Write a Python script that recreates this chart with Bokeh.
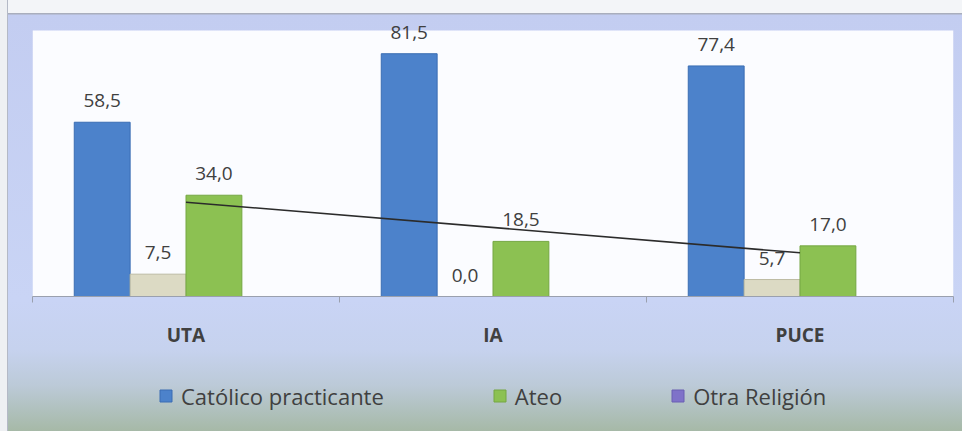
import numpy as np
from bokeh.plotting import figure
from bokeh.layouts import column
from bokeh.models import (ColumnDataSource, LabelSet, Legend, LegendItem, Range1d,
                          FixedTicker, BoxAnnotation)
from bokeh.core.properties import value
from bokeh.embed import file_html
from bokeh.resources import INLINE

# ---- data ----
categories = ["UTA", "IA", "PUCE"]
catolico = [58.5, 81.5, 77.4]
otro = [7.5, 0.0, 5.7]          # beige series (no legend entry)
ateo = [34.0, 18.5, 17.0]
otra_religion = [float("nan")] * 3   # shown in legend only, no visible bars

series_names = ["Católico practicante", None, "Ateo", "Otra Religión"]
series_values = [catolico, otro, ateo, otra_religion]
fill_colors = ["#4c82cb", "#dcdac4", "#8cc152", "#7f72c9"]
line_colors = ["#3a6db3", "#bdbba3", "#75a743", "#6a5fb3"]

FONT = "Open Sans"
TXT = "#404040"
Y_MAX = 89.3            # value axis maximum (top of the white plot area)

n = len(categories)
centers = np.arange(n) + 0.5
bar_w = 0.182
offsets = [-1.5 * bar_w, -0.5 * bar_w, 0.5 * bar_w, 1.5 * bar_w]

W, H_TOTAL, H_LEG = 962, 431, 71
H_MAIN = H_TOTAL - H_LEG
# frame spans y=14..296 px; white plot area spans y=30..296 px
frame_top, area_top, frame_bottom = 14, 30, 296
y_end = Y_MAX * (frame_bottom - frame_top) / (frame_bottom - area_top)

p = figure(width=W, height=H_MAIN, output_backend="svg", toolbar_location=None,
           x_range=Range1d(0, n), y_range=Range1d(0, y_end),
           min_border_left=32, min_border_right=9, min_border_top=frame_top,
           min_border_bottom=H_MAIN - frame_bottom, y_axis_location=None)
p.border_fill_alpha = 0
p.background_fill_alpha = 0
p.outline_line_color = None
p.xgrid.grid_line_color = None
p.ygrid.grid_line_color = None

# white plot area
p.add_layout(BoxAnnotation(bottom=0, top=Y_MAX, fill_color="#fbfcff", fill_alpha=1,
                           line_color=None, level="underlay"))

renderers = []
for vals, off, fc, lc in zip(series_values, offsets, fill_colors, line_colors):
    src = ColumnDataSource(dict(x=centers + off, top=vals,
                                lab=["" if np.isnan(v) else f"{v:.1f}".replace(".", ",") for v in vals]))
    r = p.vbar(x="x", top="top", bottom=0, width=bar_w, source=src,
               fill_color=fc, line_color=lc, line_width=1)
    renderers.append(r)
    labels = LabelSet(x="x", y="top", text="lab", source=src, text_align="center",
                      text_baseline="alphabetic", y_offset=15,
                      text_font=value(FONT), text_font_size=value("19px"), text_color=TXT)
    p.add_layout(labels)

# linear trendline of "Ateo"
slope, intercept = np.polyfit(centers, ateo, 1)
xt = np.array([centers[0], centers[-1]])
p.line(xt, slope * xt + intercept, line_color="#2b2b2b", line_width=1.6)

# x axis
ax = p.xaxis[0]
ax.ticker = FixedTicker(ticks=list(centers), minor_ticks=list(np.arange(n + 1)))
ax.major_label_overrides = {float(c): cat for c, cat in zip(centers, categories)}
ax.major_tick_line_color = None
ax.major_tick_out = 0
ax.major_tick_in = 0
ax.minor_tick_in = 0
ax.minor_tick_out = 6
ax.minor_tick_line_color = "#9aa0ae"
ax.axis_line_color = "#9aa0ae"
ax.major_label_standoff = 19
ax.major_label_text_font = FONT
ax.major_label_text_font_size = "19px"
ax.major_label_text_font_style = "bold"
ax.major_label_text_color = TXT

# legend strip below the chart (proxy bars lie entirely below its visible range)
lf = figure(width=W, height=H_LEG, output_backend="svg", toolbar_location=None,
            x_range=Range1d(0, n), y_range=Range1d(1000, 1001),
            min_border=0, x_axis_location=None, y_axis_location=None)
lf.border_fill_alpha = 0
lf.background_fill_alpha = 0
lf.outline_line_color = None
lf.xgrid.grid_line_color = None
lf.ygrid.grid_line_color = None
items = []
for name, vals, off, fc, lc in zip(series_names, series_values, offsets, fill_colors, line_colors):
    if not name:
        continue
    rr = lf.vbar(x=centers + off, top=vals, bottom=0, width=bar_w,
                 fill_color=fc, line_color=lc)
    items.append(LegendItem(label=name, renderers=[rr]))
legend = Legend(items=items, orientation="horizontal", location="center_left",
                background_fill_alpha=0, border_line_color=None, padding=0, margin=126,
                spacing=108, label_standoff=8, glyph_width=15, glyph_height=15,
                label_height=26,
                label_text_font=FONT, label_text_font_size="22px", label_text_color=TXT)
lf.add_layout(legend)

layout = column(p, lf, spacing=0)
layout.styles = {"background": (
    "linear-gradient(to right, #eef0f3 0px, #eef0f3 7px, #b4b9c6 7px, #b4b9c6 8px, rgba(0,0,0,0) 8px),"
    "linear-gradient(to bottom, #f3f5f8 0px, #f3f5f8 13px, #a9aebd 13px, #a9aebd 14px,"
    " #c3cdf1 15px, #c9d4f5 300px, #c6d2ee 350px, #bccad8 385px, #a6b9a7 431px)")}

open("out.html", "w").write(file_html(layout, INLINE))
